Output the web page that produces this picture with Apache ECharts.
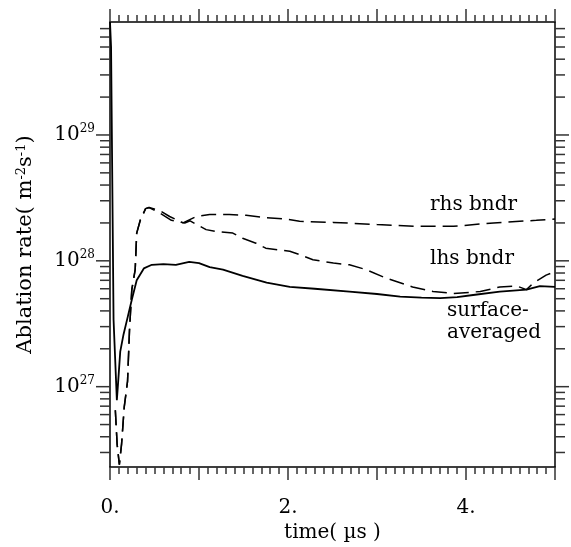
<!DOCTYPE html>
<html>
<head>
<meta charset="utf-8">
<script src="https://cdn.jsdelivr.net/npm/echarts@6/dist/echarts.min.js"></script>
<style>
  html, body { margin: 0; padding: 0; background: #fff; }
  #chart { width: 571px; height: 547px; }
</style>
</head>
<body>
<div id="chart"></div>
<script>
// axis ranges
var X_MIN = 0, X_MAX = 5;
var Y_MIN = 2.3e26, Y_MAX = 7.9e29;
var X_LABELS = { 0: '0.', 2: '2.', 4: '4.' };
var Y_MAJOR = [1e27, 1e28, 1e29];
var Y_MINOR = [
  3e26, 4e26, 5e26, 6e26, 7e26, 8e26, 9e26,
  2e27, 3e27, 4e27, 5e27, 6e27, 7e27, 8e27, 9e27,
  2e28, 3e28, 4e28, 5e28, 6e28, 7e28, 8e28, 9e28,
  2e29, 3e29, 4e29, 5e29, 6e29, 7e29
];

// surface-averaged (solid)
var T_SURF = [0, 0.012, 0.04, 0.077, 0.088, 0.115, 0.152, 0.2, 0.245, 0.30, 0.38, 0.47, 0.6, 0.74, 0.89, 1.0,
  1.12, 1.27, 1.49, 1.76, 2.02, 2.3, 2.69, 3.0, 3.26, 3.5, 3.71, 3.9, 4.08, 4.38, 4.68, 4.83, 5.0];
var SURF = [7.9e29, 5e29, 3.4e27, 7.8e26, 1.0e27, 1.9e27, 2.6e27, 3.6e27, 4.9e27, 7.0e27, 8.7e27, 9.3e27, 9.4e27, 9.3e27, 9.8e27, 9.6e27,
  8.9e27, 8.5e27, 7.6e27, 6.7e27, 6.2e27, 6.0e27, 5.7e27, 5.45e27, 5.2e27, 5.1e27, 5.05e27, 5.15e27, 5.35e27, 5.7e27, 5.9e27, 6.3e27, 6.2e27];

// lhs bndr (dashed)
var T_LHS = [0.06, 0.08, 0.105, 0.13, 0.16, 0.197, 0.219, 0.245, 0.283, 0.30, 0.34, 0.40, 0.44, 0.56, 0.69, 0.84, 0.9, 0.97,
  1.08, 1.19, 1.38, 1.49, 1.64, 1.75, 1.9, 2.02, 2.13, 2.28, 2.51, 2.69, 2.88, 3.1, 3.4, 3.63, 3.86, 4.16, 4.38, 4.57, 4.68, 4.75, 4.9, 5.0];
var LHS = [6.5e26, 3.5e26, 2.4e26, 3.5e26, 6.9e26, 1.1e27, 2.8e27, 5.9e27, 8.5e27, 1.66e28, 2.1e28, 2.6e28, 2.65e28, 2.4e28, 2.1e28, 2.0e28, 2.08e28, 1.95e28,
  1.77e28, 1.71e28, 1.66e28, 1.51e28, 1.38e28, 1.26e28, 1.22e28, 1.19e28, 1.12e28, 1.02e28, 9.6e27, 9.3e27, 8.5e27, 7.3e27, 6.2e27, 5.7e27, 5.5e27, 5.7e27, 6.2e27, 6.3e27, 5.9e27, 6.6e27, 7.7e27, 8.2e27];

// rhs bndr (dashed)
var T_RHS = [0.06, 0.08, 0.105, 0.13, 0.16, 0.197, 0.219, 0.245, 0.283, 0.30, 0.34, 0.40, 0.44, 0.56, 0.67, 0.82, 0.97,
  1.12, 1.34, 1.53, 1.76, 1.98, 2.13, 2.51, 3.0, 3.44, 3.86, 4.31, 4.79, 5.0];
var RHS = [6.5e26, 3.5e26, 2.4e26, 3.5e26, 6.9e26, 1.1e27, 2.8e27, 5.9e27, 8.5e27, 1.66e28, 2.1e28, 2.6e28, 2.65e28, 2.5e28, 2.25e28, 2.0e28, 2.25e28,
  2.33e28, 2.33e28, 2.3e28, 2.2e28, 2.15e28, 2.06e28, 2.02e28, 1.94e28, 1.88e28, 1.88e28, 2.0e28, 2.1e28, 2.15e28];

var FONT = '"DejaVu Serif", "Liberation Serif", serif';

function pairs(ts, vs) {
  return ts.map(function (t, i) { return [t, vs[i]]; });
}

var chart = echarts.init(document.getElementById('chart'), null, { renderer: 'canvas' });

var xAxisBase = {
  type: 'value',
  min: X_MIN,
  max: X_MAX,
  interval: 1,
  axisLine: { show: true, onZero: false, lineStyle: { color: '#000', width: 1.5 } },
  axisTick: { show: true, inside: false, length: 13, lineStyle: { color: '#333', width: 1.5 } },
  minorTick: { show: true, splitNumber: 10, length: 7, lineStyle: { color: '#333', width: 1.5 } },
  splitLine: { show: false },
  minorSplitLine: { show: false }
};

// log-axis ticks drawn on both sides through the axis scale
function tickSeries(values, len) {
  return {
    type: 'custom',
    silent: true,
    clip: false,
    xAxisIndex: 0,
    yAxisIndex: 0,
    data: values.map(function (v) { return [X_MIN, v]; }),
    renderItem: function (params, api) {
      var v = api.value(1);
      var l = api.coord([X_MIN, v]);
      var r = api.coord([X_MAX, v]);
      var st = { stroke: '#333', lineWidth: 1.5 };
      return {
        type: 'group',
        children: [
          { type: 'line', shape: { x1: l[0] - len, y1: l[1], x2: l[0], y2: l[1] }, style: st },
          { type: 'line', shape: { x1: r[0], y1: r[1], x2: r[0] + len, y2: r[1] }, style: st }
        ]
      };
    }
  };
}

chart.setOption({
  animation: false,
  backgroundColor: '#fff',
  grid: { left: 110, right: 16, top: 22, bottom: 80, outerBoundsMode: 'none' },
  xAxis: [
    Object.assign({}, xAxisBase, {
      position: 'bottom',
      name: 'time( µs )',
      nameLocation: 'middle',
      nameGap: 45,
      nameTextStyle: { fontFamily: FONT, fontSize: 20, color: '#000' },
      axisLabel: {
        margin: 31,
        fontFamily: FONT,
        fontSize: 20,
        color: '#000',
        formatter: function (v) { return X_LABELS[v] || ''; }
      }
    }),
    Object.assign({}, xAxisBase, { position: 'top', axisLabel: { show: false } })
  ],
  yAxis: [
    {
      type: 'log',
      position: 'left',
      min: Y_MIN,
      max: Y_MAX,
      axisLine: { show: true, onZero: false, lineStyle: { color: '#000', width: 1.5 } },
      axisTick: { show: false },
      splitLine: { show: false },
      name: 'Ablation rate( m{s|-2}s{s|-1})',
      nameLocation: 'middle',
      nameGap: 74,
      nameTextStyle: {
        fontFamily: FONT, fontSize: 21, color: '#000',
        rich: { s: { fontFamily: FONT, fontSize: 13, color: '#000', verticalAlign: 'top' } }
      },
      axisLabel: {
        margin: 15,
        showMinLabel: false,
        showMaxLabel: false,
        formatter: function (v) {
          var e = Math.round(Math.log10(v));
          if (Math.abs(Math.log10(v) - e) > 1e-6) return '';
          return '{b|10}{s|' + e + '}';
        },
        rich: {
          b: { fontFamily: FONT, fontSize: 20, color: '#000', lineHeight: 24 },
          s: { fontFamily: FONT, fontSize: 12, color: '#000', verticalAlign: 'top' }
        }
      }
    },
    {
      type: 'log',
      position: 'right',
      min: Y_MIN,
      max: Y_MAX,
      axisLine: { show: true, onZero: false, lineStyle: { color: '#000', width: 1.5 } },
      axisTick: { show: false },
      axisLabel: { show: false },
      splitLine: { show: false }
    }
  ],
  series: [
    tickSeries(Y_MAJOR, 14),
    tickSeries(Y_MINOR, 10),
    {
      name: 'surface-averaged',
      type: 'line',
      data: pairs(T_SURF, SURF),
      symbol: 'none',
      lineStyle: { color: '#000', width: 1.8, type: 'solid' }
    },
    {
      name: 'lhs bndr',
      type: 'line',
      data: pairs(T_LHS, LHS),
      symbol: 'none',
      lineStyle: { color: '#000', width: 1.5, type: [15, 7] }
    },
    {
      name: 'rhs bndr',
      type: 'line',
      data: pairs(T_RHS, RHS),
      symbol: 'none',
      lineStyle: { color: '#000', width: 1.5, type: [15, 7] }
    }
  ],
  graphic: [
    { type: 'text', left: 430, top: 195, style: { text: 'rhs bndr', font: '20px ' + FONT, fill: '#000' } },
    { type: 'text', left: 430, top: 249, style: { text: 'lhs bndr', font: '20px ' + FONT, fill: '#000' } },
    { type: 'text', left: 447, top: 301, style: { text: 'surface-', font: '20px ' + FONT, fill: '#000' } },
    { type: 'text', left: 447, top: 323, style: { text: 'averaged', font: '20px ' + FONT, fill: '#000' } }
  ]
});
</script>
</body>
</html>
